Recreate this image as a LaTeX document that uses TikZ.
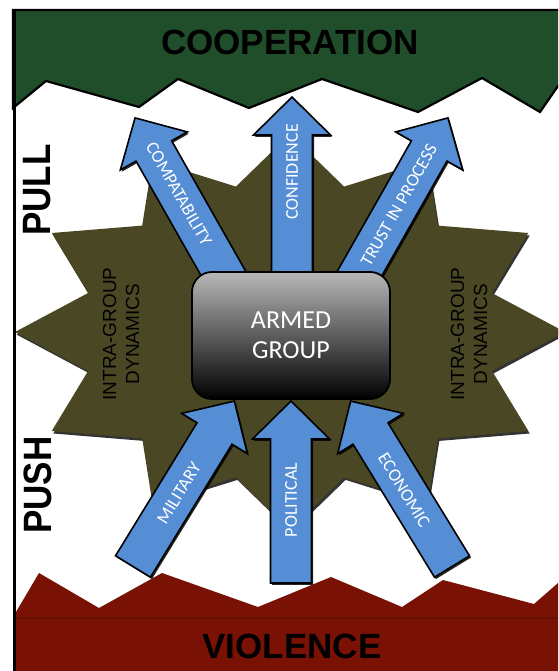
\documentclass[tikz,border=0pt]{standalone}
\usepackage{fontspec}
\setmainfont{Liberation Sans}
\newfontfamily\calibri{Carlito}
\definecolor{coopgreen}{HTML}{214E2A}
\definecolor{violred}{HTML}{791105}
\definecolor{violline}{HTML}{640E04}
\definecolor{starolive}{HTML}{4A4824}
\definecolor{arrowblue}{HTML}{558ED5}
\definecolor{boxtop}{HTML}{B8B8B8}
\tikzset{
  arrowfill/.style={fill=arrowblue, draw=black, line width=1.6pt, line join=miter},
  arrowshadow/.style={fill=black, opacity=0.85},
  arrowlabel/.style={text=white, font=\calibri\fontsize{18}{20}\selectfont, inner sep=0pt},
  bandlabel/.style={font=\bfseries\fontsize{35}{40}\selectfont, text=black, inner sep=0pt},
  sidelabel/.style={font=\bfseries\fontsize{35}{40}\selectfont, text=black, rotate=90, inner sep=0pt},
  dynlabel/.style={font=\fontsize{19}{23}\selectfont, align=center, rotate=90, text=black, inner sep=0pt},
  groupbox/.style={draw=black, line width=1.8pt, rounded corners=20pt, top color=boxtop, bottom color=black,
    minimum width=198pt, minimum height=127pt, text=white, align=center,
    font=\calibri\fontsize{26}{30}\selectfont},
}
% x, y (tail centre), angle, length
\newcommand\BlueArrow[4]{%
  \begin{scope}[shift={({#1+1.5},{#2+1.8})},rotate=#3]
    \fill[arrowshadow] (0,-20.5) -- ({#4-38},-20.5) -- ({#4-38},-38.5) -- (#4,0) -- ({#4-38},38.5) -- ({#4-38},20.5) -- (0,20.5) -- cycle;
  \end{scope}
  \begin{scope}[shift={(#1,#2)},rotate=#3]
    \filldraw[arrowfill] (0,-20.5) -- ({#4-38},-20.5) -- ({#4-38},-38.5) -- (#4,0) -- ({#4-38},38.5) -- ({#4-38},20.5) -- (0,20.5) -- cycle;
  \end{scope}}
\begin{document}
\begin{tikzpicture}[x=1pt,y=-1pt]
  \useasboundingbox (0,0) rectangle (558,671);
  \clip (0,0) rectangle (558,671);
  \fill[white] (0,0) rectangle (558,671);

  % cooperation band
  \filldraw[fill=coopgreen, draw=black, line width=2.2pt, line join=miter]
    (13,10) -- (560,10) -- (560,86) -- (558,86) -- (540,112) -- (482,78) -- (418,112) -- (322,79)
    -- (249,108) -- (178,79) -- (139,107) -- (46,81) -- (13,108) -- cycle;

  % violence band
  \fill[violred] (16,612) -- (39,573) -- (99,608) -- (162,573) -- (258,607) -- (331,577)
    -- (402,607) -- (443,580) -- (534,604) -- (558,583) -- (558,671) -- (16,671) -- cycle;
  \draw[violline, line width=2pt] (16,618) -- (558,618);

  % intra-group star (12 points)
  \fill[black, opacity=0.8, shift={(1.5,2.5)}]
    (565,332) -- (491.9,293) -- (528.2,233) -- (437.8,225.6) -- (427.5,160.5) -- (344.1,186.6)
    -- (290,134) -- (235.9,186.6) -- (152.5,160.5) -- (142.2,225.6) -- (51.8,233) -- (88.1,293)
    -- (15,332) -- (88.1,371) -- (51.8,431) -- (142.2,438.4) -- (152.5,503.5) -- (235.9,477.4)
    -- (290,530) -- (344.1,477.4) -- (427.5,503.5) -- (437.8,438.4) -- (528.2,431) -- (491.9,371) -- cycle;
  \fill[starolive]
    (565,332) -- (491.9,293) -- (528.2,233) -- (437.8,225.6) -- (427.5,160.5) -- (344.1,186.6)
    -- (290,134) -- (235.9,186.6) -- (152.5,160.5) -- (142.2,225.6) -- (51.8,233) -- (88.1,293)
    -- (15,332) -- (88.1,371) -- (51.8,431) -- (142.2,438.4) -- (152.5,503.5) -- (235.9,477.4)
    -- (290,530) -- (344.1,477.4) -- (427.5,503.5) -- (437.8,438.4) -- (528.2,431) -- (491.9,371) -- cycle;

  \node[dynlabel] (dynL) at (121,334) {INTRA-GROUP\\DYNAMICS};
  \node[dynlabel] (dynR) at (469,334) {INTRA-GROUP\\DYNAMICS};

  % arrows
  \BlueArrow{292}{300}{90}{203}
  \BlueArrow{236.8}{297}{119.6}{206}
  \BlueArrow{346.2}{297}{60.4}{206}
  \BlueArrow{291}{583}{90}{182}
  \BlueArrow{133}{566.5}{58.5}{194}
  \BlueArrow{452}{566.5}{121.5}{194}

  \node[arrowlabel, rotate=90] (lconf) at (292,172) {CONFIDENCE};
  \node[arrowlabel, rotate=-60.4] (lcomp) at (179,194) {COMPATABILITY};
  \node[arrowlabel, rotate=60.4] (ltrust) at (399,205) {TRUST IN PROCESS};
  \node[arrowlabel, rotate=90] (lpol) at (291,500) {POLITICAL};
  \node[arrowlabel, rotate=58.5] (lmil) at (179,493) {MILITARY};
  \node[arrowlabel, rotate=-58.5] (leco) at (404,490) {ECONOMIC};

  % armed group
  \node[groupbox] (group) at (291,335.5) {ARMED\\GROUP};

  % band labels
  \node[bandlabel] (coop) at (290,42.5) {COOPERATION};
  \node[bandlabel] (viol) at (292,646) {VIOLENCE};
  \node[sidelabel] (pull) at (37.5,190) {\scalebox{1}[1.13]{PULL}};
  \node[sidelabel] (push) at (37.5,485) {\scalebox{1}[1.13]{PUSH}};

  % frame
  \draw[black, line width=3pt] (14.5,9) -- (14.5,672);
\end{tikzpicture}
\end{document}
